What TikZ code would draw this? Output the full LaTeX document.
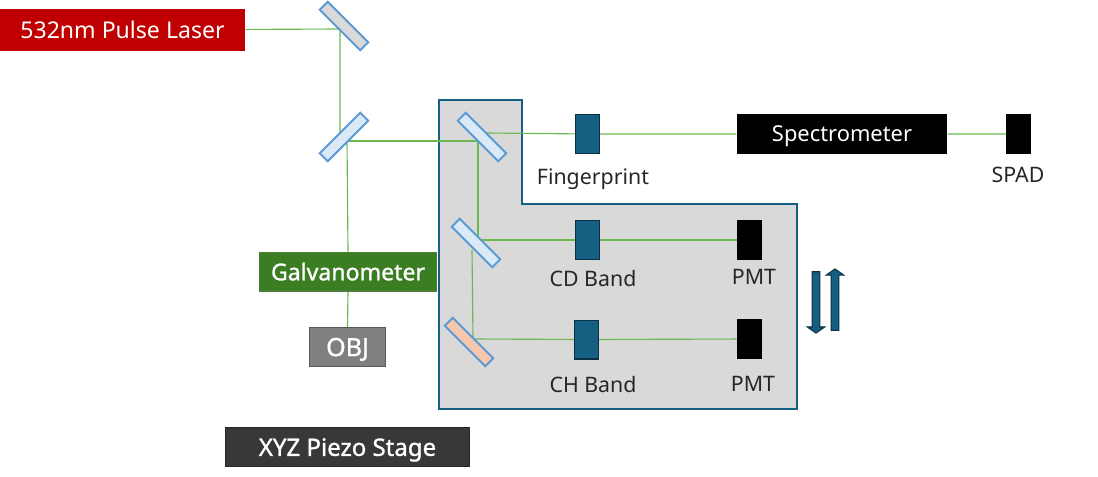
\documentclass[tikz,border=0pt]{standalone}
\usepackage{fontspec}
\setmainfont{Noto Sans}
\newfontfamily\heavyfont[FakeBold=1.2]{Noto Sans}
\usetikzlibrary{backgrounds,shapes.arrows}

\definecolor{laserred}{HTML}{C00000}
\definecolor{galvogreen}{HTML}{3B7D23}
\definecolor{beamgreen}{HTML}{6BB84F}
\definecolor{mirrorblue}{HTML}{5B9BD5}
\definecolor{mirrorfill}{HTML}{DAE9F8}
\definecolor{mirrororange}{HTML}{F6C6AD}
\definecolor{filterblue}{HTML}{156082}
\definecolor{panelgray}{HTML}{D9D9D9}

\tikzset{
  beam/.style={draw=beamgreen, line width=0.85pt},
  box/.style={rectangle, inner sep=0pt, text=white, line width=1pt, text depth=0pt},
  mirror/.style={rectangle, draw=mirrorblue, fill=mirrorfill, line width=1.5pt,
    minimum width=43pt, minimum height=8.5pt, inner sep=0pt},
  filterbox/.style={rectangle, draw=filterblue!50!black, fill=filterblue, line width=1pt,
    minimum width=18pt, minimum height=29pt, inner sep=0pt},
  detector/.style={rectangle, fill=black, minimum width=18.75pt, minimum height=30pt, inner sep=0pt},
  tag/.style={font=\fontsize{16}{18}\selectfont, text=black!85, inner sep=0pt, text depth=0pt},
  heavy/.style={font=\heavyfont\fontsize{#1}{20}\selectfont},
  motion/.style={single arrow, draw=filterblue!50!black, fill=filterblue, line width=0.8pt,
    minimum height=46pt, minimum width=13pt, single arrow head extend=3.5pt, inner sep=2.5pt,
    single arrow tip angle=110}
}

\begin{document}
\begin{tikzpicture}[x=0.75pt, y=-0.75pt]
  \useasboundingbox (0,0) rectangle (1098,476);

  % Light source
  \node[box, fill=laserred, minimum width=183.75pt, minimum height=31.5pt,
    font=\fontsize{17.3}{20}\selectfont] (laser) at (122.5,30) {532nm Pulse Laser};

  % Steering mirrors
  \node[mirror, rotate=-45, fill=panelgray] (mirrorTop) at (344,26) {};
  \node[mirror, rotate=45] (mirrorSplit) at (344,137) {};

  % Scan path
  \node[box, fill=galvogreen, draw=galvogreen!75!gray, minimum width=133pt, minimum height=29pt,
    heavy=17.3] (galvo) at (348,271.5) {Galvanometer};
  \node[box, fill=black!50, draw=black!65, minimum width=57pt, minimum height=29pt,
    heavy=18.8] (obj) at (347.5,347) {OBJ};
  \node[box, fill=black!78, draw=black!85, minimum width=183pt, minimum height=29pt,
    heavy=18] (stage) at (347.5,447) {XYZ Piezo Stage};

  % Mirrors on the moving plate
  \node[mirror, rotate=-45] (mirrorFp) at (482,137) {};
  \node[mirror, rotate=-45] (mirrorCd) at (476,243) {};
  \node[mirror, rotate=-45, fill=mirrororange] (mirrorCh) at (469,342) {};

  % Filters
  \node[filterbox] (filterFp) at (587.5,134) {};
  \node[filterbox] (filterCd) at (587.5,240) {};
  \node[filterbox] (filterCh) at (586.5,339.5) {};

  % Detectors
  \node[box, fill=black, minimum width=157.5pt, minimum height=30pt,
    font=\fontsize{16.4}{20}\selectfont] (spec) at (842,134) {Spectrometer};
  \node[detector] (spad) at (1018.5,134) {};
  \node[detector] (pmtCd) at (749.5,240) {};
  \node[detector] (pmtCh) at (749.5,339) {};

  % Labels
  \node[tag] (tagFp) at (593,177) {Fingerprint};
  \node[tag] (tagCd) at (593,278) {CD Band};
  \node[tag] (tagCh) at (593,384) {CH Band};
  \node[tag] (tagSpad) at (1018,175) {SPAD};
  \node[tag] (tagPmtCd) at (754,277) {PMT};
  \node[tag] (tagPmtCh) at (753,384) {PMT};

  % Plate motion
  \node[motion, rotate=-90] (moveDown) at (816,301) {};
  \node[motion, rotate=90] (moveUp) at (835,301) {};

  % Points where the beam turns, hidden under the mirrors
  \coordinate (hitTop) at (340,29);
  \coordinate (hitSplitIn) at (340,137);
  \coordinate (hitSplitOut) at (347,141);
  \coordinate (hitFpIn) at (478,141);
  \coordinate (hitFpOut) at (487,133);
  \coordinate (hitCdIn) at (478,240);
  \coordinate (hitCdOut) at (472,250);
  \coordinate (hitCh) at (473,339);

  \begin{scope}[on background layer]
    % Plate (draw FIRST)
    \draw[draw=filterblue, fill=panelgray, line width=1.1pt]
      (439,100) -- (522,100) -- (522,204) -- (797,204) -- (797,409) -- (439,409) -- cycle;

    % Beams
    \draw[beam] (laser) -- (hitTop) -- (hitSplitIn);
    \draw[beam] (hitSplitOut) -- (hitFpIn) -- (hitCdIn) -- (filterCd) -- (pmtCd);
    \draw[beam] (hitSplitOut) -- (galvo.north);
    \draw[beam] (galvo.south) -- (obj.north);
    \draw[beam] (hitFpOut) -- (filterFp) -- (spec) -- (spad);
    \draw[beam] (hitCdOut) -- (hitCh) -- (filterCh) -- (pmtCh);
  \end{scope}
\end{tikzpicture}
\end{document}
